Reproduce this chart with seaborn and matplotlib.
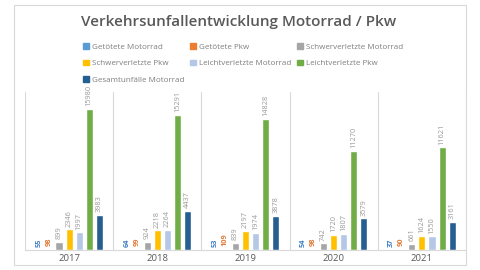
import matplotlib
matplotlib.use("Agg")
import matplotlib.pyplot as plt
import seaborn as sns
import pandas as pd
from matplotlib.patches import Rectangle

years = ["2017", "2018", "2019", "2020", "2021"]
series = ["Getötete Motorrad", "Getötete Pkw", "Schwerverletzte Motorrad",
          "Schwerverletzte Pkw", "Leichtverletzte Motorrad", "Leichtverletzte Pkw",
          "Gesamtunfälle Motorrad"]
getoetete_motorrad = [55, 64, 53, 54, 37]
getoetete_pkw = [98, 99, 109, 98, 90]
schwer_motorrad = [899, 924, 839, 742, 661]
schwer_pkw = [2346, 2218, 2197, 1720, 1624]
leicht_motorrad = [1997, 2264, 1974, 1807, 1550]
leicht_pkw = [15980, 15291, 14828, 11270, 11621]
gesamt_motorrad = [3983, 4437, 3878, 3579, 3161]

values = [getoetete_motorrad, getoetete_pkw, schwer_motorrad, schwer_pkw,
          leicht_motorrad, leicht_pkw, gesamt_motorrad]
colors = ["#5B9BD5", "#ED7D31", "#A5A5A5", "#FFC000", "#B4C7E7", "#70AD47", "#255E91"]
label_colors = ["#3F7FC4", "#E07B39", "#999999", "#999999", "#999999", "#999999", "#999999"]
label_bold = [True, True, False, False, False, False, False]

rows = []
for s, vals in zip(series, values):
    for y, v in zip(years, vals):
        rows.append({"Jahr": y, "Serie": s, "Wert": v})
df = pd.DataFrame(rows)

sns.set_theme(style="white")
plt.rcParams["font.family"] = ["Open Sans", "DejaVu Sans"]

fig = plt.figure(figsize=(4.8, 2.7), dpi=100)
ax = fig.add_axes([25/480, 1-250/270, (466-25)/480, (250-92)/270])

sns.barplot(data=df, x="Jahr", y="Wert", hue="Serie", hue_order=series,
            palette=colors, width=0.8, gap=0.3, ax=ax, legend=False,
            saturation=1, errorbar=None)

for cont, lc, b in zip(ax.containers, label_colors, label_bold):
    ax.bar_label(cont, rotation=90, padding=2, fontsize=5.3, color=lc,
                 fontweight="bold" if b else "normal")

ax.set_ylim(0, 17900)
ax.set_xlim(-0.5, 4.5)
for x in [-0.5, 0.5, 1.5, 2.5, 3.5, 4.5]:
    ax.axvline(x, color="#D9D9D9", lw=0.8, zorder=0)
for sp in ["top", "left", "right"]:
    ax.spines[sp].set_visible(False)
ax.spines["bottom"].set_color("#D9D9D9")
ax.spines["bottom"].set_linewidth(0.8)
ax.set_yticks([])
ax.set_xlabel("")
ax.set_ylabel("")
ax.tick_params(axis="x", length=0, pad=3, labelsize=6.8, labelcolor="#595959")

fig.text(239/480, 1-22/270, "Verkehrsunfallentwicklung Motorrad / Pkw",
         ha="center", va="center", fontsize=11, fontweight="semibold", color="#595959")

handles = [Rectangle((0, 0), 1, 1, color=c) for c in colors]
order = [0, 3, 6, 1, 4, 2, 5]
fig.legend([handles[i] for i in order], [series[i] for i in order], ncol=3,
           loc="upper left", bbox_to_anchor=(83/480, 1-43/270), frameon=False,
           fontsize=5.8, handlelength=0.7, handleheight=0.7, handletextpad=0.4,
           columnspacing=0.7, labelspacing=1.1, labelcolor="#7F7F7F",
           borderaxespad=0, borderpad=0)

fig.patches.append(Rectangle((14/480, 5/270), (466-14)/480, (265-5)/270,
                             transform=fig.transFigure, fill=False,
                             edgecolor="#D9D9D9", lw=0.8))

fig.savefig("out.png", dpi=100)
